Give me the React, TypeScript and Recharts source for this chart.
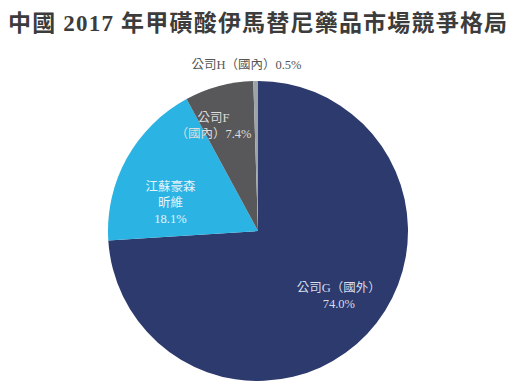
import { Cell, Pie, PieChart } from "recharts";

const TITLE = "中國2017年甲磺酸伊馬替尼藥品市場競爭格局";

const companies = ["公司G（國外）", "江蘇豪森昕維", "公司F（國內）", "公司H（國內）"];
const shares = [74.0, 18.1, 7.4, 0.5];
const colors = ["#2c3a6d", "#2bb3e3", "#58585a", "#9ea3a8"];

// label lines per slice, and where they sit (distance from centre, angle in degrees)
const labelLines = [
  ["公司G（國外）", "74.0%"],
  ["江蘇豪森", "昕維", "18.1%"],
  ["公司F", "（國內）7.4%"],
  ["公司H（國內）0.5%"],
];
const labelPlace = [
  { r: 104, a: -39 },
  { r: 92, a: 162 },
  { r: 114, a: 113 },
  { r: 166, a: 94 },
];
const labelColors = ["#d9dcea", "#e4f4fb", "#dddddd", "#555555"];

const data = companies.map((name, i) => ({ name, value: shares[i] }));

const FONT = "'Liberation Serif', 'Noto Sans CJK TC', serif";

function renderLabel(props: any) {
  const { cx, cy, index } = props;
  const place = labelPlace[index];
  const rad = (place.a * Math.PI) / 180;
  const x = cx + place.r * Math.cos(rad);
  const y = cy - place.r * Math.sin(rad);
  const lines = labelLines[index];
  const lh = 16;
  const y0 = y - ((lines.length - 1) * lh) / 2;
  return (
    <text
      key={`l-${index}`}
      x={x}
      y={y0}
      textAnchor="middle"
      dominantBaseline="central"
      fill={labelColors[index]}
      fontSize={12.5}
      fontFamily={FONT}
    >
      {lines.map((t, j) => (
        <tspan key={j} x={x} y={y0 + j * lh}>
          {t}
        </tspan>
      ))}
    </text>
  );
}

export default function App() {
  return (
    <div
      style={{
        position: "absolute",
        left: 0,
        top: 0,
        width: 517,
        height: 388,
        background: "#ffffff",
        overflow: "hidden",
      }}
    >
      <div
        style={{
          position: "absolute",
          left: 8,
          top: 4,
          fontSize: 23,
          fontWeight: "bold",
          letterSpacing: 1.2,
          color: "#3c3c3c",
          fontFamily: "'Liberation Serif', 'Noto Sans CJK TC', serif",
          whiteSpace: "nowrap",
        }}
      >
        {TITLE.replace("2017", " 2017 ")}
      </div>
      <PieChart width={517} height={388} style={{ position: "absolute", left: 0, top: 0 }}>
        <Pie
          data={data}
          dataKey="value"
          nameKey="name"
          cx={253}
          cy={226}
          outerRadius={150}
          startAngle={90}
          endAngle={-270}
          stroke="none"
          label={renderLabel}
          labelLine={false}
          isAnimationActive={false}
        >
          {data.map((d, i) => (
            <Cell key={d.name} fill={colors[i]} />
          ))}
        </Pie>
      </PieChart>
    </div>
  );
}
